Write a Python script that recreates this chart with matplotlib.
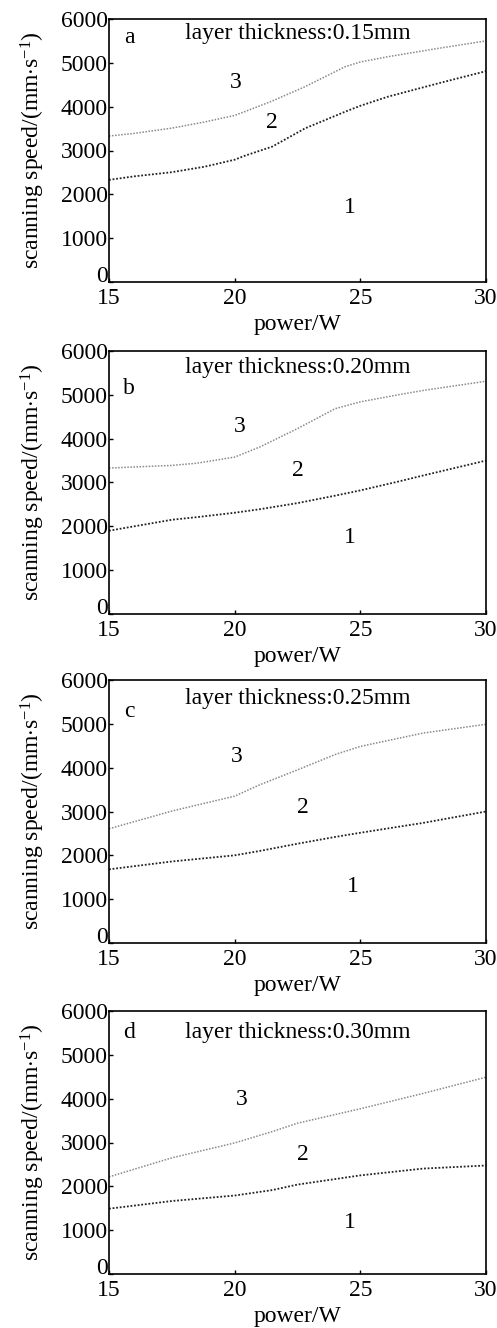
import matplotlib as mpl
mpl.use("Agg")
mpl.rcParams.update({
    "font.family": "serif",
    "font.serif": ["Liberation Serif", "DejaVu Serif"],
    "mathtext.fontset": "custom",
    "mathtext.rm": "Liberation Serif",
    "mathtext.it": "Liberation Serif:italic",
    "font.size": 17,
    "axes.linewidth": 1.2,
})
import matplotlib.pyplot as plt
from matplotlib.transforms import ScaledTranslation

# boundary curves: scanning speed (mm/s) vs laser power (W), one pair per layer thickness
power_a = [15, 16, 17.5, 18.8, 20, 20.4, 21.5, 22.8, 24.4, 25, 26.1, 28.1, 30]
upper_a = [3330, 3390, 3510, 3650, 3800, 3886, 4130, 4456, 4913, 5020, 5140, 5330, 5500]
lower_a = [2330, 2410, 2505, 2630, 2790, 2880, 3090, 3505, 3886, 4020, 4228, 4532, 4810]

power_b = [15, 17.5, 18.5, 20, 21, 22.5, 24, 25, 26.5, 27.5, 30]
upper_b = [3330, 3390, 3440, 3580, 3810, 4230, 4685, 4840, 5000, 5100, 5310]
lower_b = [1900, 2150, 2210, 2310, 2390, 2530, 2700, 2820, 3020, 3160, 3500]

power_c = [15, 17.5, 20, 21, 22.5, 24, 25, 27.5, 30]
upper_c = [2606, 3010, 3350, 3610, 3950, 4300, 4485, 4790, 4990]
lower_c = [1680, 1860, 2000, 2100, 2265, 2420, 2515, 2740, 3000]

power_d = [15, 17.5, 20, 21.5, 22.5, 25, 27.5, 30]
upper_d = [2216, 2650, 2990, 3250, 3440, 3770, 4120, 4490]
lower_d = [1490, 1665, 1790, 1915, 2040, 2250, 2405, 2475]

panel_letters = ["a", "b", "c", "d"]
titles = ["layer thickness:0.15mm", "layer thickness:0.20mm",
          "layer thickness:0.25mm", "layer thickness:0.30mm"]
letter_y = [5570, 5150, 5270, 5500]
title_y = [5680, 5630, 5570, 5500]
# region label positions (power, speed) for zones 1, 2, 3
zone_pos = [
    [(24.6, 1710), (21.5, 3630), (20.05, 4560)],
    [(24.6, 1740), (22.5, 3270), (20.2, 4280)],
    [(24.7, 1300), (22.7, 3090), (20.1, 4250)],
    [(24.6, 1180), (22.7, 2730), (20.3, 3980)],
]

curves = [
    (power_a, upper_a, lower_a),
    (power_b, upper_b, lower_b),
    (power_c, upper_c, lower_c),
    (power_d, upper_d, lower_d),
]

W, H = 497, 1328
fig = plt.figure(figsize=(W / 100, H / 100), dpi=100)
tops = [19, 351, 680, 1011]
ax_h = 263
left, ax_w = 109, 377

for i, (p, up, lo) in enumerate(curves):
    ax = fig.add_axes([left / W, (H - tops[i] - ax_h) / H, ax_w / W, ax_h / H])
    ax.plot(p, up, ls=(0, (1, 1)), color="#8a8a8a", lw=1.1)
    ax.plot(p, lo, ls=(0, (1, 1)), color="#222222", lw=1.3)
    ax.set_xlim(15, 30)
    ax.set_ylim(0, 6000)
    ax.set_xticks([15, 20, 25, 30])
    ax.set_yticks(range(0, 6001, 1000))
    ax.tick_params(direction="in", length=3, width=1, labelsize=17)
    ax.tick_params(axis="y", pad=1)
    ax.tick_params(axis="x", pad=4)
    # lift the "0" a little so it clears the "15" below the corner
    zero_lbl = ax.get_yticklabels()[0]
    zero_lbl.set_transform(zero_lbl.get_transform()
                           + ScaledTranslation(0, 6 / 72, fig.dpi_scale_trans))
    ax.text(15.8, letter_y[i], panel_letters[i], ha="center", va="center", fontsize=17)
    ax.text(22.5, title_y[i], titles[i], ha="center", va="center", fontsize=17)
    for k, (zx, zy) in enumerate(zone_pos[i]):
        ax.text(zx, zy, str(k + 1), ha="center", va="center", fontsize=17)
    ax.set_xlabel("power/W", fontsize=17, labelpad=4)
    ax.set_ylabel(r"scanning speed/(mm$\cdot$s$^{-1}$)", fontsize=17, labelpad=10)

fig.savefig("out.png", dpi=100)
